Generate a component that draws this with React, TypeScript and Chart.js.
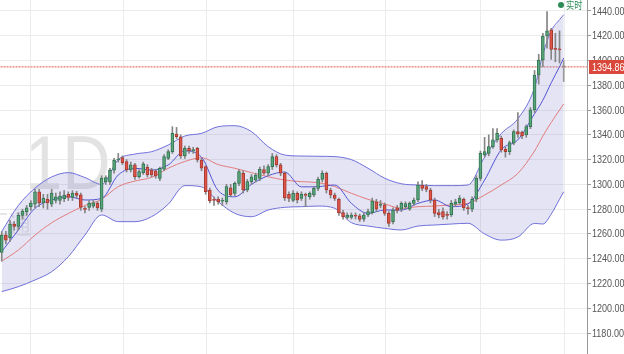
import React, { useEffect, useRef } from 'react';
import { Chart, registerables } from 'chart.js';

Chart.register(...registerables);

// ---- candle data (daily OHLC) ----
const opens = [
  1245, 1259, 1257, 1268, 1266, 1275, 1278, 1282, 1284, 1294,
  1285, 1288, 1284, 1287, 1287, 1288.5, 1292, 1289.5, 1293, 1291.5,
  1280.4, 1281.5, 1282.5, 1285, 1280, 1302, 1302, 1311.5, 1319.7, 1321.6,
  1318.4, 1311.6, 1315.7, 1306.2, 1309.5, 1313.8, 1311.6, 1311, 1304.9, 1312.2,
  1321, 1326.4, 1340.7, 1338.5, 1322.9, 1329.1, 1327.3, 1329.1, 1319.7, 1314.3,
  1295.5, 1287.6, 1288.2, 1286.4, 1286.1, 1297.3, 1292.8, 1300.8, 1309, 1295.5,
  1302.2, 1303.5, 1304.9, 1312, 1309, 1314.3, 1322.4, 1315.7, 1309, 1292,
  1287, 1292.8, 1288.7, 1291.6, 1290, 1291.4, 1296.8, 1304, 1308.9, 1295.5,
  1291.4, 1288, 1277.2, 1273.4, 1273.4, 1274.9, 1274.7, 1272, 1275.3, 1277.2,
  1286, 1283, 1283.4, 1276.6, 1269.9, 1281, 1279.9, 1282, 1280, 1284.7,
  1287.4, 1299.5, 1298.2, 1295.5, 1287.4, 1277.2, 1278, 1275.5, 1275.3, 1284,
  1285, 1288, 1281, 1280, 1288, 1304.9, 1323.7, 1325.1, 1330.5, 1335.9,
  1337.2, 1328.3, 1326.4, 1333.2, 1342.6, 1342, 1339.9, 1346.6, 1360.1, 1388.3,
  1400.4, 1419.8, 1424.7, 1409.5, 1409.5, 1395.5,
];
const highs = [
  1262, 1262, 1271, 1270, 1277, 1280, 1283, 1287, 1296, 1296,
  1292, 1292, 1296, 1293, 1294, 1295, 1294, 1295, 1294.5, 1293,
  1282, 1287, 1287, 1286, 1307, 1307, 1313, 1321, 1325, 1323,
  1320, 1318, 1317, 1312, 1318, 1316, 1313, 1312, 1314, 1324,
  1328, 1346.6, 1346, 1340, 1331, 1331, 1330, 1330, 1321, 1315,
  1297, 1290, 1290, 1289, 1300, 1300, 1302, 1312, 1311, 1304,
  1308, 1309, 1314, 1315, 1316, 1325, 1324, 1317, 1310, 1294,
  1295, 1294, 1294, 1293, 1294, 1298, 1306, 1311, 1310, 1297,
  1293, 1289, 1279, 1277, 1277, 1277, 1276, 1277, 1280, 1289,
  1288, 1287, 1285, 1278, 1281, 1283, 1286, 1286, 1286, 1289,
  1302, 1303, 1300, 1297, 1289, 1280, 1281, 1278, 1287, 1288,
  1291, 1289, 1283, 1290, 1307, 1327, 1338, 1340, 1345, 1345,
  1339, 1330, 1335, 1344, 1358, 1343, 1348, 1362, 1392, 1405,
  1422, 1439.5, 1426, 1422, 1424, 1400,
];
const lows = [
  1238, 1252, 1254, 1263, 1263, 1272, 1275, 1279, 1281, 1282,
  1281, 1280, 1282, 1285, 1284, 1286, 1287, 1287, 1289, 1279,
  1277, 1279, 1281, 1279, 1278, 1300, 1300, 1309, 1318, 1316,
  1310, 1310, 1304, 1305, 1308, 1306, 1306, 1305, 1303, 1311,
  1320, 1325, 1337, 1321, 1321, 1325, 1325, 1318, 1311, 1292,
  1285, 1283, 1284, 1283, 1284, 1290, 1291, 1299, 1293, 1294,
  1300, 1302, 1303, 1308, 1307, 1312, 1314, 1307, 1287, 1286,
  1286, 1285, 1287, 1282, 1288, 1290, 1295, 1302, 1293, 1289,
  1287, 1275, 1272, 1272, 1272, 1272, 1270, 1270, 1274, 1276,
  1278, 1281, 1275, 1266, 1268, 1277, 1278, 1280, 1279, 1283,
  1286, 1295, 1294, 1285, 1274, 1273, 1272, 1272, 1274, 1282,
  1284, 1279, 1276, 1278, 1286, 1303, 1322, 1323, 1329, 1334,
  1326, 1322, 1324, 1332, 1338, 1337, 1338, 1345, 1358, 1381,
  1395, 1410, 1401, 1399, 1398, 1383,
];
const closes = [
  1259, 1255, 1268, 1266, 1275, 1278.5, 1281, 1285, 1294, 1285,
  1289, 1285, 1293, 1290, 1290.5, 1291.4, 1289.5, 1293, 1291, 1281.5,
  1279.8, 1285, 1285.2, 1281, 1305, 1305.5, 1311.5, 1319.7, 1320.5, 1317.5,
  1311.6, 1315.7, 1306.2, 1310.3, 1316.5, 1307.6, 1307.6, 1306.8, 1313, 1322.4,
  1326.4, 1341.2, 1338.5, 1322.9, 1329.1, 1327, 1328, 1319.7, 1313, 1294.1,
  1286.9, 1287.1, 1286.1, 1286.9, 1298.2, 1291.4, 1300.8, 1310.3, 1295.5, 1302.2,
  1306.2, 1307.6, 1312.2, 1309, 1314.3, 1322.4, 1315.7, 1309, 1289, 1288.7,
  1292.8, 1287.4, 1292, 1291.1, 1292.8, 1296.8, 1304, 1308.9, 1295.5, 1291.4,
  1288.7, 1277, 1273.9, 1275.3, 1275.3, 1274.4, 1271.8, 1275.3, 1278, 1286.6,
  1279.9, 1284, 1276.6, 1268.5, 1279.3, 1279, 1284.7, 1284.5, 1284.7, 1287.4,
  1299.5, 1296.8, 1296, 1287.4, 1276.6, 1275.3, 1274, 1275, 1284.7, 1286,
  1289, 1281, 1280.4, 1288, 1304.9, 1325.1, 1326.4, 1330.5, 1335.9, 1341.2,
  1327.8, 1326.4, 1333.7, 1342.6, 1340.7, 1339.4, 1346.6, 1360.1, 1388.3, 1400.4,
  1419.8, 1423.9, 1409, 1409, 1408.6, 1394.86,
];

// ---- indicator lines (at these candle positions) ----
const lineIdx = [
  0, 4, 8, 12, 16, 20, 24, 28, 32, 36, 40, 44, 48, 52, 56, 60, 64, 68, 72, 76,
  80, 84, 88, 92, 96, 100, 104, 108, 112, 116, 120, 124, 128, 130, 132, 134, 135,
];
const upperBand = [
  1262, 1283, 1297, 1306, 1309.5, 1305.5, 1300, 1320, 1324.5, 1326.4,
  1331.8, 1339.1, 1341.2, 1346.6, 1347.4, 1342.6, 1330.5, 1323.7, 1322.9, 1322.7,
  1322.4, 1320, 1313, 1305, 1300.5, 1299.5, 1299, 1299, 1299.5, 1322,
  1341, 1353, 1378, 1405, 1424, 1433, 1437,
];
const lowerBand = [
  1213.4, 1217.4, 1222.8, 1229.5, 1241.6, 1259.1, 1275.3, 1269.9, 1269.9, 1273.9,
  1284, 1299, 1298, 1286, 1276.6, 1273.9, 1279.3, 1281.5, 1282, 1282.5,
  1280.7, 1269.1, 1266.4, 1264.5, 1263.2, 1266.4, 1267.2, 1268, 1268.6, 1260,
  1255, 1257.5, 1268.5, 1268, 1276, 1288, 1294,
];
const midBand = [
  1238, 1247, 1259, 1269, 1276.5, 1283, 1288, 1298.2, 1302.7, 1305.7,
  1313, 1318.5, 1321.5, 1316, 1313, 1309.5, 1306.2, 1303.5, 1302.2, 1301.4,
  1298.2, 1292.8, 1287.9, 1284.2, 1280.7, 1282, 1282.5, 1283.4, 1284.7, 1291.4,
  1299.5, 1308.9, 1327, 1339, 1350, 1360, 1365,
];
const maLine = [
  1245.7, 1263.2, 1280.7, 1287.4, 1290.1, 1287.4, 1288.7, 1307.6, 1313, 1311.6,
  1315.7, 1327, 1322, 1295, 1290, 1300, 1307, 1310, 1298, 1298.2,
  1299.5, 1284.7, 1276.6, 1279.3, 1279.3, 1284.7, 1287.4, 1282, 1284.2, 1303.5,
  1328, 1336, 1357, 1368, 1382, 1395, 1402,
];

// ---- axis ----
const yTicks = [1180, 1200, 1220, 1240, 1260, 1280, 1300, 1320, 1340, 1360, 1380, 1400, 1420, 1440];
const monthLines = [7, 29.3, 49.1, 70.2, 92.2, 115.1, 135.3];
const lastPrice = 1394.86;
const legendLabel = '实时';
const watermarkMain = '1D';
const watermarkSub = '汇通';

const UP_FILL = '#5aa57a';
const UP_EDGE = '#337552';
const DOWN_FILL = '#de5447';
const DOWN_EDGE = '#a63a30';
const LIVE_FILL = '#a9a9a9';
const LIVE_EDGE = '#777777';
const SANS = '"Liberation Sans", Arial, sans-serif';
const SQUEEZE = 0.82;

function squeezedText(ctx: any, text: string, x: number, y: number) {
  ctx.save();
  ctx.translate(x, y);
  ctx.scale(SQUEEZE, 1);
  ctx.fillText(text, 0, 0);
  ctx.restore();
}

const overlay = {
  id: 'overlay',
  beforeDatasetsDraw(chart: any) {
    const { ctx } = chart;
    ctx.save();
    ctx.fillStyle = '#e3e3e3';
    ctx.font = '76px ' + SANS;
    ctx.textBaseline = 'alphabetic';
    ctx.textAlign = 'left';
    ctx.translate(25, 189);
    ctx.scale(0.88, 1);
    ctx.fillText(watermarkMain, 0, 0);
    ctx.restore();
    ctx.save();
    ctx.fillStyle = '#e6e6e6';
    ctx.font = '26px "Noto Sans CJK SC", sans-serif';
    ctx.textBaseline = 'alphabetic';
    ctx.translate(-14, 234);
    ctx.scale(0.86, 1);
    ctx.fillText(watermarkSub, 0, 0);
    ctx.restore();
  },
  afterDraw(chart: any) {
    const { ctx, scales } = chart;
    const ys = scales.y;
    ctx.save();
    // axis labels
    ctx.fillStyle = '#555555';
    ctx.font = '11px ' + SANS;
    ctx.textBaseline = 'middle';
    ctx.textAlign = 'left';
    yTicks.forEach((v) => {
      squeezedText(ctx, v.toFixed(2), ys.left + 5, ys.getPixelForValue(v) + 0.5);
    });
    // last price tag
    const py = Math.round(ys.getPixelForValue(lastPrice));
    ctx.fillStyle = '#d9483b';
    ctx.fillRect(ys.left + 2, py - 7, 35, 14);
    ctx.fillStyle = '#ffffff';
    squeezedText(ctx, lastPrice.toFixed(2), ys.left + 5, py + 0.5);
    // legend
    ctx.fillStyle = '#2e8b57';
    ctx.beginPath();
    ctx.arc(ys.left - 26, 5, 3, 0, Math.PI * 2);
    ctx.fill();
    ctx.font = '10px "Noto Sans CJK SC", sans-serif';
    squeezedText(ctx, legendLabel, ys.left - 21, 5);
    ctx.restore();
  },
};

export default function App() {
  const ref = useRef<HTMLCanvasElement>(null);

  useEffect(() => {
    document.body.style.margin = '0';
    const canvas = ref.current;
    if (!canvas) return;
    const last = closes.length - 1;
    const up = (i: number) => closes[i] >= opens[i];
    const bodyFill = closes.map((_, i) => (i === last ? LIVE_FILL : up(i) ? UP_FILL : DOWN_FILL));
    const bodyEdge = closes.map((_, i) => (i === last ? LIVE_EDGE : up(i) ? UP_EDGE : DOWN_EDGE));
    const wickColor = closes.map((_, i) => (i === last ? '#9a9a9a' : '#858585'));
    const bodies = closes.map((c, i) => ({ x: i, y: [opens[i], c] }));
    const wicks = closes.map((_, i) => ({ x: i, y: [lows[i], highs[i]] }));
    const pts = (arr: number[]) => lineIdx.map((x, k) => ({ x, y: arr[k] }));

    const lineBase = {
      type: 'line',
      pointRadius: 0,
      borderWidth: 1,
      cubicInterpolationMode: 'monotone',
      fill: false,
    };

    const chart = new Chart(canvas, {
      type: 'bar',
      data: {
        datasets: [
          {
            type: 'bar',
            label: 'body',
            data: bodies,
            backgroundColor: bodyFill,
            borderColor: bodyEdge,
            borderWidth: 1,
            borderSkipped: false,
            barThickness: 3,
            minBarLength: 1,
            grouped: false,
          },
          {
            type: 'bar',
            label: 'wick',
            data: wicks,
            backgroundColor: wickColor,
            borderWidth: 0,
            barThickness: 1,
            grouped: false,
          },
          { ...lineBase, label: 'MA', data: pts(maLine), borderColor: '#5454d4' },
          { ...lineBase, label: 'MID', data: pts(midBand), borderColor: '#e27c7c' },
          {
            ...lineBase,
            label: 'UPPER',
            data: pts(upperBand),
            borderColor: '#7070dc',
            fill: '+1',
            backgroundColor: 'rgba(120,120,200,0.2)',
          },
          { ...lineBase, label: 'LOWER', data: pts(lowerBand), borderColor: '#7070dc' },
          {
            type: 'line',
            label: 'price',
            data: [
              { x: -1, y: lastPrice },
              { x: 141, y: lastPrice },
            ],
            borderColor: '#e35a48',
            borderDash: [2, 1],
            borderWidth: 1,
            pointRadius: 0,
            fill: false,
          },
        ] as any,
      },
      options: {
        responsive: false,
        animation: false,
        devicePixelRatio: 1,
        layout: { padding: 0, autoPadding: false },
        plugins: { legend: { display: false }, tooltip: { enabled: false } },
        scales: {
          x: {
            type: 'linear',
            min: -0.41,
            max: 140.6,
            offset: false,
            ticks: { display: false },
            grid: { color: '#ececec', drawTicks: false, offset: false },
            border: { display: false },
            afterBuildTicks: (s: any) => {
              s.ticks = monthLines.map((v) => ({ value: v }));
            },
          },
          y: {
            position: 'right',
            min: 1163.05,
            max: 1448.88,
            ticks: { display: false },
            grid: { color: '#ebebeb', tickLength: 4, tickColor: '#999999' },
            border: { display: true, color: '#999999', width: 1 },
            afterBuildTicks: (s: any) => {
              s.ticks = yTicks.map((v) => ({ value: v }));
            },
            afterFit: (s: any) => {
              s.width = 37;
              s.paddingTop = 0;
              s.paddingBottom = 0;
            },
          },
        },
      } as any,
      plugins: [overlay],
    });
    return () => chart.destroy();
  }, []);

  return (
    <div style={{ position: 'absolute', left: 0, top: 0, width: 624, height: 354 }}>
      <canvas ref={ref} width={624} height={354} style={{ display: 'block' }} />
    </div>
  );
}
